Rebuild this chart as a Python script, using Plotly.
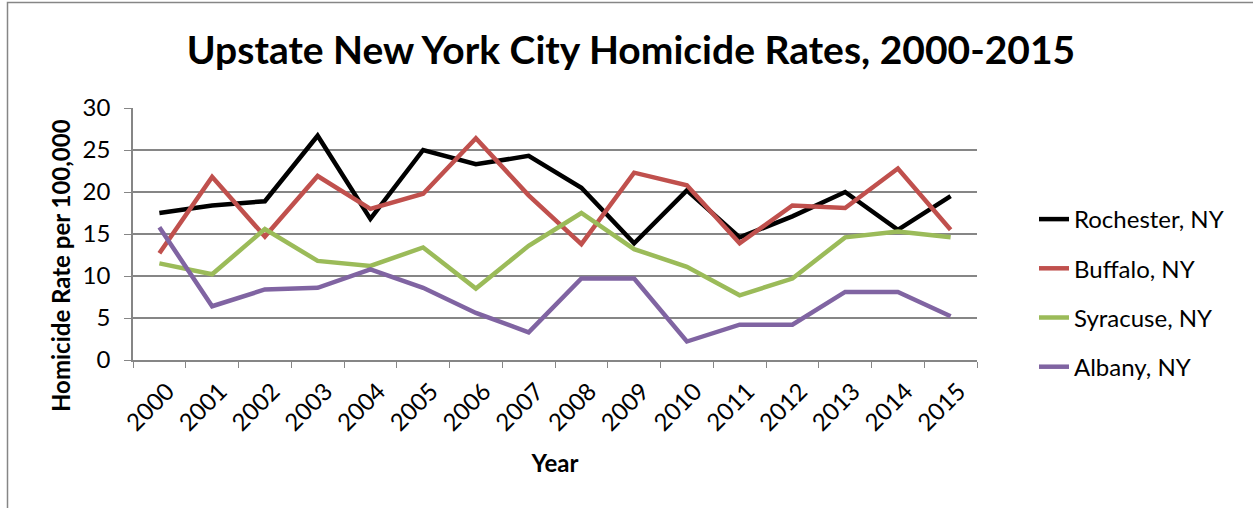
import plotly.graph_objects as go

years = [str(y) for y in range(2000, 2016)]
rochester = [17.5, 18.4, 18.9, 26.7, 16.8, 25.0, 23.3, 24.3, 20.5, 13.9, 20.2, 14.6, 17.1, 20.0, 15.5, 19.5]
buffalo = [12.7, 21.8, 14.7, 21.9, 18.0, 19.8, 26.4, 19.6, 13.8, 22.3, 20.8, 13.9, 18.4, 18.1, 22.8, 15.5]
syracuse = [11.5, 10.2, 15.6, 11.8, 11.2, 13.4, 8.5, 13.6, 17.5, 13.2, 11.1, 7.7, 9.7, 14.6, 15.3, 14.6]
albany = [15.8, 6.4, 8.4, 8.6, 10.8, 8.6, 5.6, 3.3, 9.7, 9.7, 2.2, 4.2, 4.2, 8.1, 8.1, 5.2]

series = [
    ("Rochester, NY", rochester, "#000000"),
    ("Buffalo, NY", buffalo, "#C0504D"),
    ("Syracuse, NY", syracuse, "#9BBB59"),
    ("Albany, NY", albany, "#8064A2"),
]

FONT = "Lato"
FS = 24
fig = go.Figure()
for i, (name, vals, col) in enumerate(series):
    fig.add_trace(go.Scatter(x=years, y=vals, name=name, mode="lines",
                             line=dict(color=col, width=4.5),
                             legendgroup=f"g{i}"))

L, R, T, B = 133, 276, 108, 148
W, H = 1253, 508
pw, ph = W - L - R, H - T - B

def px_x(px):
    return (px - L) / pw

def px_y(py):
    return (H - py - B) / ph

fig.update_layout(
    width=W, height=H,
    margin=dict(l=L, r=R, t=T, b=B),
    paper_bgcolor="white", plot_bgcolor="white",
    font=dict(family=FONT, color="black", size=FS),
    title=dict(text="<b>Upstate New York City Homicide Rates, 2000-2015</b>",
               x=631 / W, xanchor="center", y=1 - 50 / H, yanchor="middle",
               font=dict(family=FONT, size=39, color="black")),
    xaxis=dict(type="category", range=[-0.5, 15.5], showgrid=False, showline=True,
               linecolor="#868686", linewidth=1.5, ticks="outside", ticklen=6,
               tickcolor="#868686", tickson="boundaries", tickangle=-45,
               ticklabelshift=8, ticklabelstandoff=6,
               tickfont=dict(family=FONT, size=FS),
               title=dict(text="<b>Year</b>", font=dict(family=FONT, size=FS), standoff=20)),
    yaxis=dict(range=[0, 30], dtick=5, showgrid=True, gridcolor="#868686", gridwidth=1.5,
               showline=True, linecolor="#868686", linewidth=1.5, ticks="outside",
               ticklen=7, tickcolor="#868686", zeroline=False, ticklabelstandoff=9,
               tickfont=dict(family=FONT, size=FS)),
    legend=dict(x=px_x(1034), xanchor="left", y=px_y(197), yanchor="top",
                font=dict(family=FONT, size=FS), traceorder="grouped",
                tracegroupgap=15, bgcolor="rgba(0,0,0,0)"),
    annotations=[dict(text="<b>Homicide Rate per 100,000</b>", textangle=-90,
                      xref="paper", yref="paper", x=px_x(60), y=px_y(266),
                      xanchor="center", yanchor="middle", showarrow=False,
                      font=dict(family=FONT, size=FS, color="black"))],
    shapes=[dict(type="rect", xref="paper", yref="paper",
                 x0=px_x(7.5), x1=px_x(1270), y0=px_y(525), y1=px_y(2.5),
                 line=dict(color="#868686", width=1.5), fillcolor="rgba(0,0,0,0)", layer="below")],
)

fig.write_html("out.html")
